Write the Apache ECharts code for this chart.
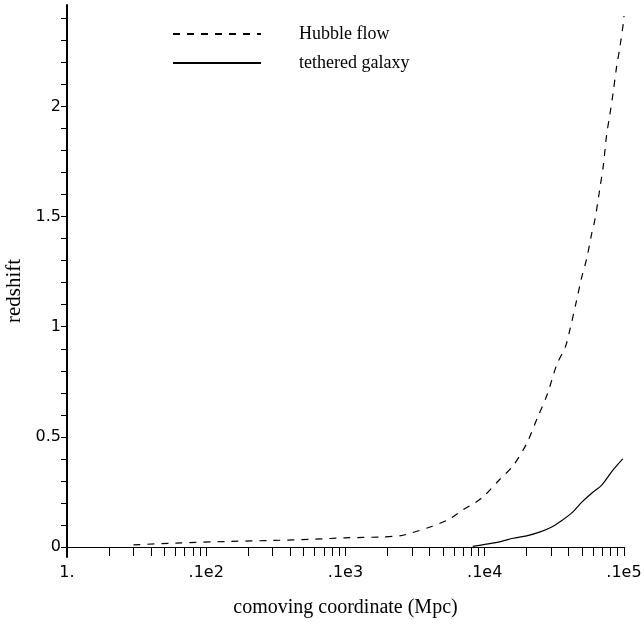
<!DOCTYPE html>
<html>
<head>
<meta charset="utf-8">
<script src="https://cdn.jsdelivr.net/npm/echarts@6/dist/echarts.min.js"></script>
<style>
html, body { margin: 0; padding: 0; background: #fff; }
#chart { width: 644px; height: 624px; }
</style>
</head>
<body>
<div id="chart"></div>
<script>
// comoving coordinate (Mpc) and redshift
var hubbleX = [3, 6, 15, 30, 60, 100, 180, 250, 300, 400, 550, 700, 850, 1000, 1250, 1600, 2000, 2400, 2800, 3300, 3800, 4100, 4550, 4950, 5400, 5850, 6200, 6700, 7100, 7500, 7900, 8350, 8850, 9350, 9900, 10000];
var hubbleZ = [0.01, 0.018, 0.026, 0.03, 0.036, 0.042, 0.046, 0.052, 0.065, 0.09, 0.125, 0.17, 0.2, 0.235, 0.3, 0.37, 0.47, 0.59, 0.69, 0.83, 0.91, 0.99, 1.115, 1.22, 1.31, 1.42, 1.49, 1.625, 1.73, 1.87, 1.96, 2.06, 2.18, 2.27, 2.38, 2.41];
var tetherX = [820, 1000, 1300, 1600, 2000, 2500, 3000, 3600, 4300, 5000, 6000, 6900, 8300, 9800];
var tetherZ = [0.003, 0.012, 0.025, 0.04, 0.051, 0.069, 0.09, 0.122, 0.16, 0.205, 0.25, 0.28, 0.348, 0.40];

// ticks
var xTickValues = [1, 2, 3, 4, 5, 6, 7, 8, 9, 10, 20, 30, 40, 50, 60, 70, 80, 90, 100, 200, 300, 400, 500, 600, 700, 800, 900, 1000, 2000, 3000, 4000, 5000, 6000, 7000, 8000, 9000, 10000];
var xLabelValues = [1, 10, 100, 1000, 10000];
var yTickValues = [0, 0.1, 0.2, 0.3, 0.4, 0.5, 0.6, 0.7, 0.8, 0.9, 1, 1.1, 1.2, 1.3, 1.4, 1.5, 1.6, 1.7, 1.8, 1.9, 2, 2.1, 2.2, 2.3, 2.4];
var yLabelValues = [0, 0.5, 1, 1.5, 2];

function pairs(xs, ys) {
    var out = [];
    for (var i = 0; i < xs.length; i++) {
        out.push([xs[i], ys[i]]);
    }
    return out;
}

var myChart = echarts.init(document.getElementById('chart'));
var option = {
    animation: false,
    backgroundColor: '#fff',
    legend: {
        orient: 'vertical',
        left: 172,
        top: 25,
        padding: 0,
        itemWidth: 88,
        itemHeight: 14,
        itemGap: 11,
        itemStyle: { opacity: 0 },
        textStyle: { fontFamily: 'Liberation Serif', fontSize: 18, color: '#000', padding: [0, 0, 0, 33] },
        data: [
            { name: 'Hubble flow' },
            { name: 'tethered galaxy', lineStyle: { width: 2 } }
        ]
    },
    grid: { left: 67, right: 20, top: 5, bottom: 67, outerBoundsMode: 'none', containLabel: false },
    xAxis: {
        type: 'log',
        logBase: 10,
        min: 1,
        max: 10000,
        name: 'comoving coordinate (Mpc)',
        nameLocation: 'middle',
        nameGap: 41,
        nameTextStyle: { fontFamily: 'Liberation Serif', fontSize: 20, color: '#000' },
        axisLine: { onZero: true, lineStyle: { color: '#000', width: 1 } },
        axisTick: { show: true, length: 9, customValues: xTickValues, lineStyle: { color: '#000', width: 1 } },
        minorTick: { show: false },
        axisLabel: {
            customValues: xLabelValues,
            fontFamily: 'DejaVu Sans', fontSize: 16, color: '#000', margin: 8,
            formatter: function (v) {
                if (Math.abs(v - 1) < 1e-9) return '1.';
                return '.1e' + (Math.round(Math.log10(v)) + 1);
            }
        },
        splitLine: { show: false }
    },
    yAxis: {
        type: 'value',
        min: -0.045,
        max: 2.46,
        name: 'redshift',
        nameLocation: 'middle',
        nameGap: 37,
        nameTextStyle: { fontFamily: 'Liberation Serif', fontSize: 21, color: '#000', padding: [0, 20, 0, 0] },
        axisLine: { show: true, onZero: false, lineStyle: { color: '#000', width: 2 } },
        axisTick: { show: true, length: 6, customValues: yTickValues, lineStyle: { color: '#000', width: 1 } },
        axisLabel: {
            customValues: yLabelValues,
            fontFamily: 'DejaVu Sans', fontSize: 16, color: '#000', margin: 6
        },
        splitLine: { show: false }
    },
    series: [
        {
            name: 'Hubble flow',
            type: 'line',
            symbol: 'none',
            smooth: 0.3,
            lineStyle: { color: '#000', width: 1.2, type: [7, 7] },
            itemStyle: { color: '#000' },
            data: pairs(hubbleX, hubbleZ)
        },
        {
            name: 'tethered galaxy',
            type: 'line',
            symbol: 'none',
            smooth: 0.3,
            lineStyle: { color: '#000', width: 1.2 },
            itemStyle: { color: '#000' },
            data: pairs(tetherX, tetherZ)
        }
    ]
};
myChart.setOption(option);
</script>
</body>
</html>
